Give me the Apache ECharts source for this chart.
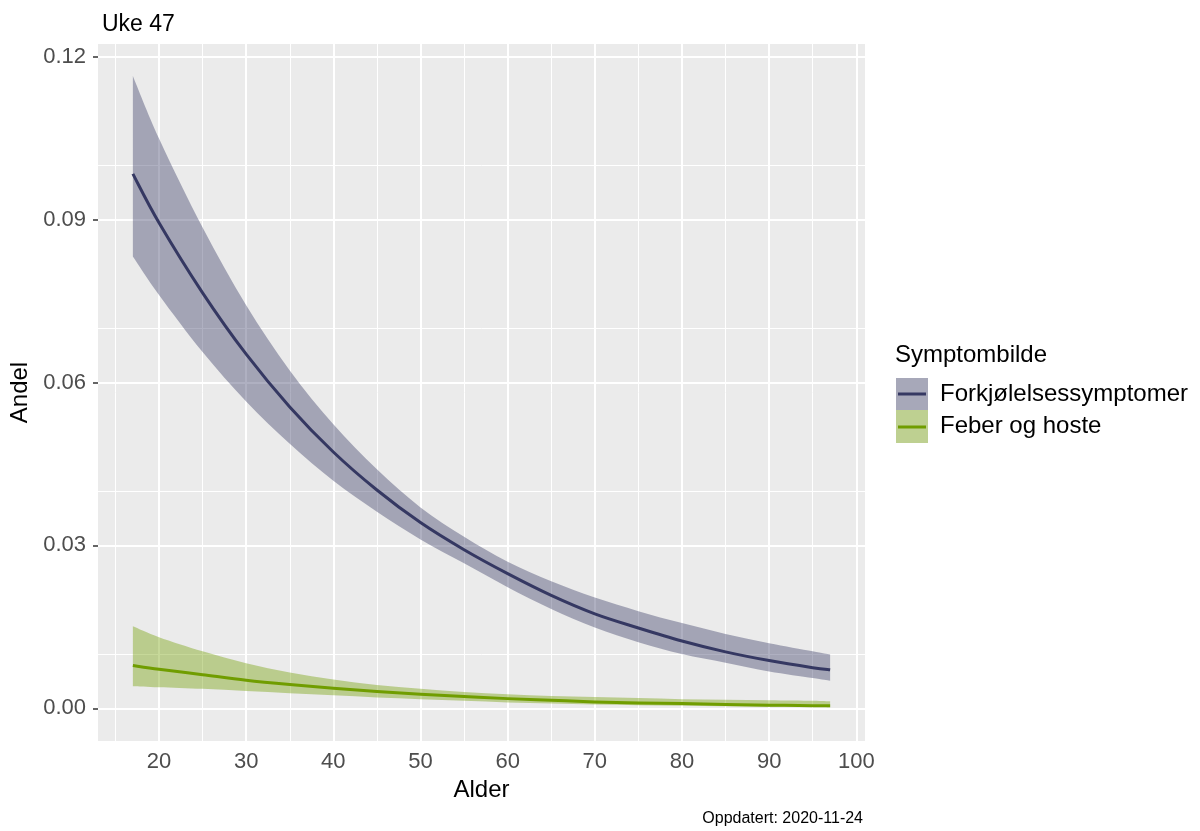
<!DOCTYPE html>
<html><head><meta charset="utf-8">
<script src="https://cdn.jsdelivr.net/npm/echarts@6/dist/echarts.min.js"></script>
<style>html,body{margin:0;padding:0;background:#fff}#c{width:1200px;height:831px}</style>
</head><body><div id="c"></div>
<script>
// ---- data ----
const ages = [17,20,25,30,35,40,45,50,55,60,65,70,75,80,85,90,95,97];
const coldFit   = [0.0984,0.0894,0.0765,0.0652,0.0555,0.0472,0.0402,0.0342,0.0292,0.0248,0.0208,0.0174,0.0148,0.0124,0.0104,0.0088,0.0075,0.0071];
const coldLower = [0.0832,0.0761,0.0656,0.0565,0.0487,0.0419,0.0362,0.0311,0.0267,0.0223,0.0183,0.0149,0.0122,0.0100,0.0084,0.0068,0.0056,0.0051];
const coldUpper = [0.1164,0.1049,0.0885,0.0742,0.0622,0.0523,0.0440,0.0370,0.0316,0.0270,0.0234,0.0204,0.0179,0.0157,0.0137,0.0120,0.0105,0.0099];
const feverFit   = [0.0079,0.0072,0.0062,0.0052,0.0044,0.0037,0.0031,0.0026,0.0022,0.0018,0.0015,0.0012,0.0010,0.0009,0.0007,0.0006,0.0005,0.0005];
const feverLower = [0.0041,0.0039,0.0036,0.0032,0.0028,0.0024,0.0020,0.0017,0.0014,0.0011,0.0009,0.0007,0.0006,0.0005,0.0004,0.0003,0.0003,0.0002];
const feverUpper = [0.0151,0.0131,0.0105,0.0083,0.0066,0.0053,0.0043,0.0036,0.0030,0.0026,0.0023,0.0021,0.0019,0.0017,0.0016,0.0015,0.0014,0.0013];
const seriesNames = ['Forkjølelsessymptomer','Feber og hoste'];
const xTicks = [20,30,40,50,60,70,80,90,100];
const xMinor = [15,25,35,45,55,65,75,85,95];
const yTicks = [0,0.03,0.06,0.09,0.12];
const yMinor = [0.015,0.045,0.075,0.105];
const titleText = 'Uke 47';
const xName = 'Alder';
const yName = 'Andel';
const legendTitle = 'Symptombilde';
const caption = 'Oppdatert: 2020-11-24';

const FONT = "'Liberation Sans', Arial, sans-serif";
const coldLine = '#353862', coldBand = 'rgba(55,58,100,0.4)';
const feverLine = '#709D00', feverBand = 'rgba(112,157,0,0.4)';

function catmull(pts) {
  let d = '';
  for (let i = 0; i < pts.length - 1; i++) {
    const p0 = pts[Math.max(i-1,0)], p1 = pts[i], p2 = pts[i+1], p3 = pts[Math.min(i+2,pts.length-1)];
    const c1x = p1[0] + (p2[0]-p0[0])/6, c1y = p1[1] + (p2[1]-p0[1])/6;
    const c2x = p2[0] - (p3[0]-p1[0])/6, c2y = p2[1] - (p3[1]-p1[1])/6;
    d += ' C' + c1x + ',' + c1y + ' ' + c2x + ',' + c2y + ' ' + p2[0] + ',' + p2[1];
  }
  return d;
}
function bandRender(lower, upper, color) {
  return function (params, api) {
    if (params.dataIndexInside !== 0) return null;
    const up = ages.map((a,i) => api.coord([a, upper[i]]));
    const lo = ages.map((a,i) => api.coord([a, lower[i]])).reverse();
    const d = 'M' + up[0][0] + ',' + up[0][1] + catmull(up) +
              ' L' + lo[0][0] + ',' + lo[0][1] + catmull(lo) + ' Z';
    return { type: 'path', shape: { pathData: d }, style: { fill: color } };
  };
}
function lineRender(vals, color) {
  return function (params, api) {
    if (params.dataIndexInside !== 0) return null;
    const pts = ages.map((a,i) => api.coord([a, vals[i]]));
    const d = 'M' + pts[0][0] + ',' + pts[0][1] + catmull(pts);
    return { type: 'path', shape: { pathData: d },
             style: { fill: 'none', stroke: color, lineWidth: 3, lineCap: 'butt', lineJoin: 'round' } };
  };
}

const gridLines = [].concat(
  xMinor.map(v => ({ xAxis: v, lineStyle: { width: 1 } })),
  yMinor.map(v => ({ yAxis: v, lineStyle: { width: 1 } })),
  xTicks.map(v => ({ xAxis: v, lineStyle: { width: 2 } })),
  yTicks.map(v => ({ yAxis: v, lineStyle: { width: 2 } }))
);

const chart = echarts.init(document.getElementById('c'), null, { renderer: 'canvas' });
chart.setOption({
  animation: false,
  backgroundColor: '#ffffff',
  textStyle: { fontFamily: FONT },
  title: { text: titleText, left: 97, top: 8, textStyle: { fontFamily: FONT, fontSize: 23, fontWeight: 'normal', color: '#000' } },
  grid: { left: 98, right: 335, top: 44, bottom: 90, show: true, backgroundColor: '#EBEBEB', borderWidth: 0 },
  xAxis: {
    type: 'value', min: 13, max: 101,
    name: xName, nameLocation: 'middle', nameGap: 36,
    nameTextStyle: { fontFamily: FONT, fontSize: 24, color: '#000' },
    axisLine: { show: false },
    axisTick: { show: true, length: 5, lineStyle: { color: '#333', width: 1.5 }, customValues: xTicks },
    axisLabel: { customValues: xTicks, margin: 10, fontFamily: FONT, fontSize: 22, color: '#4D4D4D' },
    splitLine: { show: false }
  },
  yAxis: {
    type: 'value', min: -0.006, max: 0.1223,
    name: yName, nameLocation: 'middle', nameGap: 61, nameRotate: 90,
    nameTextStyle: { fontFamily: FONT, fontSize: 24, color: '#000' },
    axisLine: { show: false },
    axisTick: { show: true, length: 5, lineStyle: { color: '#333', width: 1.5 }, customValues: yTicks },
    axisLabel: { customValues: yTicks, margin: 12, fontFamily: FONT, fontSize: 22, color: '#4D4D4D',
                 formatter: v => v.toFixed(2) },
    splitLine: { show: false }
  },
  series: [
    { type: 'line', name: 'grid', data: [[17, 0]], symbol: 'none', lineStyle: { width: 0 }, silent: true, z: 1,
      markLine: { silent: true, symbol: 'none', label: { show: false }, animation: false, z: 1,
                  lineStyle: { color: '#ffffff', type: 'solid' }, data: gridLines } },
    { type: 'custom', name: seriesNames[0] + ' band', data: ages.map((a,i)=>[a, coldLower[i], coldUpper[i]]),
      renderItem: bandRender(coldLower, coldUpper, coldBand), silent: true, z: 2 },
    { type: 'custom', name: seriesNames[1] + ' band', data: ages.map((a,i)=>[a, feverLower[i], feverUpper[i]]),
      renderItem: bandRender(feverLower, feverUpper, feverBand), silent: true, z: 2 },
    { type: 'custom', name: seriesNames[0], data: ages.map((a,i)=>[a, coldFit[i]]),
      renderItem: lineRender(coldFit, coldLine), silent: true, z: 3 },
    { type: 'custom', name: seriesNames[1], data: ages.map((a,i)=>[a, feverFit[i]]),
      renderItem: lineRender(feverFit, feverLine), silent: true, z: 3 }
  ],
  graphic: [
    { type: 'text', left: 895, top: 343, style: { text: legendTitle, font: '24px ' + FONT, fill: '#000' } },
    { type: 'rect', shape: { x: 896, y: 378, width: 32, height: 32 }, style: { fill: '#F2F2F2' } },
    { type: 'rect', shape: { x: 896, y: 378, width: 32, height: 32 }, style: { fill: coldBand } },
    { type: 'line', shape: { x1: 898, y1: 394, x2: 926, y2: 394 }, style: { stroke: coldLine, lineWidth: 3 } },
    { type: 'rect', shape: { x: 896, y: 410, width: 32, height: 33 }, style: { fill: '#F2F2F2' } },
    { type: 'rect', shape: { x: 896, y: 410, width: 32, height: 33 }, style: { fill: feverBand } },
    { type: 'line', shape: { x1: 898, y1: 427, x2: 926, y2: 427 }, style: { stroke: feverLine, lineWidth: 3 } },
    { type: 'text', left: 940, top: 382, style: { text: seriesNames[0], font: '24px ' + FONT, fill: '#000' } },
    { type: 'text', left: 940, top: 414, style: { text: seriesNames[1], font: '24px ' + FONT, fill: '#000' } },
    { type: 'text', right: 337, top: 811, style: { text: caption, font: '16px ' + FONT, fill: '#000' } }
  ]
});
</script>
</body></html>
